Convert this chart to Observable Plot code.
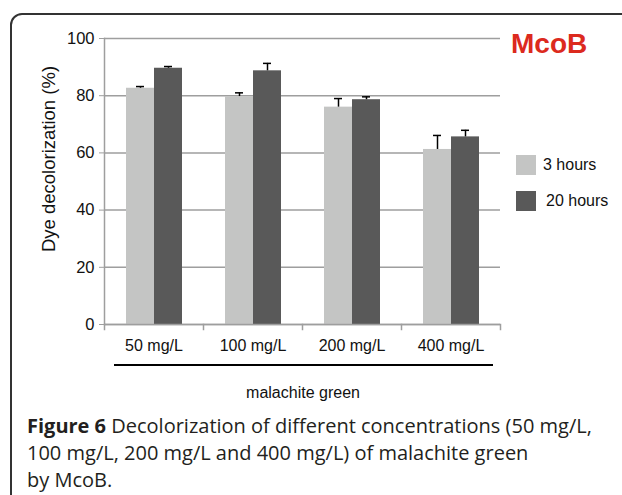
<!DOCTYPE html>
<html>
<head>
<meta charset="utf-8">
<script src="https://cdn.jsdelivr.net/npm/d3@7"></script>
<script src="https://cdn.jsdelivr.net/npm/@observablehq/plot@0.6"></script>
<style>
  body { margin: 0; background: #fff; }
  #wrap { position: relative; width: 622px; height: 495px; overflow: hidden; font-family: "Liberation Sans", Arial, sans-serif; color: #111; }
  #frame { position: absolute; left: 10px; top: 13px; width: 700px; height: 600px; border: 2px solid #333; border-radius: 12px; box-sizing: border-box; }
  #chart { position: absolute; left: 0; top: 0; }
  #ytitle { position: absolute; left: -101px; top: 149px; width: 300px; height: 20px; line-height: 20px; text-align: center; font-size: 18.5px; transform: rotate(-90deg); transform-origin: 50% 50%; white-space: nowrap; }
  #title { position: absolute; left: 511px; top: 30px; font-size: 28px; line-height: 28px; font-weight: bold; color: #dc2a1e; }
  .leg { position: absolute; left: 516px; display: flex; align-items: center; height: 20px; font-size: 16px; line-height: 16px; }
  .sw { width: 20px; height: 20px; }
  #catline { position: absolute; left: 114px; top: 364px; width: 379px; height: 2px; background: #000; }
  #xtitle { position: absolute; left: 203px; top: 384px; width: 200px; text-align: center; font-size: 16px; line-height: 18px; }
  #caption { position: absolute; left: 27px; top: 412px; font-family: "Open Sans", Lato, sans-serif; font-size: 20px; line-height: 27px; color: #231f20; white-space: nowrap; }
</style>
</head>
<body>
<div id="wrap">
  <div id="frame"></div>
  <div id="chart"></div>
  <div id="ytitle"></div>
  <div id="title"></div>
  <div id="legend"></div>
  <div id="catline"></div>
  <div id="xtitle"></div>
  <div id="caption"></div>
</div>
<script>
// ---- data ----
const categories = ["50 mg/L", "100 mg/L", "200 mg/L", "400 mg/L"];
const series = ["3 hours", "20 hours"];
const values3h = [82.6, 79.7, 76.0, 61.2];
const values20h = [89.6, 88.7, 78.6, 65.6];
const errors3h = [0.6, 1.3, 3.0, 4.9];
const errors20h = [0.6, 2.6, 1.0, 2.3];
const yTicks = [0, 20, 40, 60, 80, 100];
const seriesColors = ["#c4c5c4", "#595959"];
const chartTitle = "McoB";
const yLabel = "Dye decolorization (%)";
const xLabel = "malachite green";
const captionBold = "Figure 6";
const captionLines = [
  " Decolorization of different concentrations (50 mg/L,",
  "100 mg/L, 200 mg/L and 400 mg/L) of malachite green",
  "by McoB."
];

const data = categories.flatMap((c, i) => [
  {cat: c, series: series[0], value: values3h[i], err: errors3h[i]},
  {cat: c, series: series[1], value: values20h[i], err: errors20h[i]}
]);

// ---- layout ----
const W = 622, H = 410;
const mT = 38, mB = H - 324, mL = 102, mR = W - 501;
const innerH = H - mT - mB;
const gray = "#9e9e9e";

const chart = Plot.plot({
  width: W, height: H,
  marginTop: mT, marginBottom: mB, marginLeft: mL, marginRight: mR,
  style: {fontFamily: "'Liberation Sans', Arial, sans-serif", fontSize: "16px", color: "#111", background: "transparent", overflow: "visible"},
  fx: {domain: categories, padding: 0, label: null},
  x: {domain: series, paddingInner: 0, paddingOuter: 0.754, axis: null},
  y: {domain: [0, 100], ticks: yTicks},
  color: {domain: series, range: seriesColors},
  marks: [
    Plot.gridY(yTicks, {stroke: gray, strokeOpacity: 1, strokeWidth: 1.5}),
    Plot.barY(data, {fx: "cat", x: "series", y: "value", fill: "series"}),
    Plot.ruleX(data, {fx: "cat", x: "series", y1: "value", y2: d => d.value + d.err, stroke: "#000", strokeWidth: 1.5}),
    Plot.tickY(data, {fx: "cat", x: "series", y: d => d.value + d.err, stroke: "#000", strokeWidth: 1.5, insetLeft: 10, insetRight: 10}),
    Plot.ruleY([0], {stroke: gray, strokeWidth: 1.5}),
    Plot.frame({anchor: "left", facetAnchor: "left", stroke: gray, strokeWidth: 1.5}),
    Plot.frame({anchor: "left", stroke: gray, strokeWidth: 1.5, insetTop: innerH, insetBottom: -5}),
    Plot.frame({anchor: "right", facetAnchor: "right", stroke: gray, strokeWidth: 1.5, insetTop: innerH, insetBottom: -5}),
    Plot.axisY(yTicks, {tickSize: 5, tickPadding: 5, stroke: gray, fill: "#111", fontSize: 16.5, label: null}),
    Plot.axisFx({anchor: "bottom", tickSize: 0, tickPadding: 15, fontSize: 16, fill: "#111", label: null})
  ]
});
document.getElementById("chart").appendChild(chart);

document.getElementById("ytitle").textContent = yLabel;
document.getElementById("title").textContent = chartTitle;
document.getElementById("xtitle").textContent = xLabel;

const legend = document.getElementById("legend");
series.forEach((s, i) => {
  const row = document.createElement("div");
  row.className = "leg";
  row.style.top = (i === 0 ? 155 : 191) + "px";
  const sw = document.createElement("div");
  sw.className = "sw";
  sw.style.background = seriesColors[i];
  const t = document.createElement("span");
  t.style.marginLeft = (i === 0 ? 7 : 10) + "px";
  t.textContent = s;
  row.appendChild(sw); row.appendChild(t);
  legend.appendChild(row);
});

const cap = document.getElementById("caption");
const b = document.createElement("b");
b.textContent = captionBold;
cap.appendChild(b);
captionLines.forEach((line, i) => {
  if (i > 0) cap.appendChild(document.createElement("br"));
  cap.appendChild(document.createTextNode(line));
});
</script>
</body>
</html>
